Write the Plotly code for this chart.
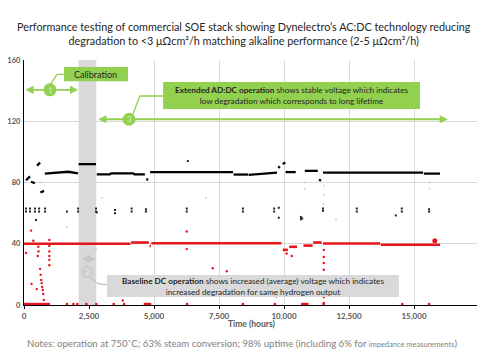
import plotly.graph_objects as go

# ---------------- data ----------------
# Black series: continuous segments (None = gap)
black_line_hours = [80, 230, None, 270, 420, None, 500, 620, None, 630, 770, None,
                    800, 1200, 1700, 2080, None, 2100, 2770, None,
                    2800, 3300, 3350, 4200, 4250, 4650, None, 4700, 4780, None,
                    4850, 8040, None, 8060, 8620, None, 8640, 9200, 9730, None,
                    9780, 9840, None, 9950, 10050, None, 10060, 10450, None,
                    10800, 11300, None, 11350, 11420, None, 11500, 15350, None, 15380, 16000]
black_line_values = [81.5, 84, None, 80.5, 79.5, None, 91, 93, None, 73.5, 74.5, None,
                     85.8, 86.2, 87, 86, None, 92, 92, None,
                     85.3, 85.3, 86, 86, 85.3, 85.3, None, 82, 82, None,
                     86.8, 86.8, None, 85.2, 85.2, None, 85, 85.8, 86.5, None,
                     89.5, 90.5, None, 92, 93, None, 86.8, 86.8, None,
                     87.6, 87.6, None, 82, 81, None, 86.5, 86.5, None, 85.8, 85.8]

# Black scattered points (measurement interruptions)
black_pts_hours = [77, 77, 230, 230, 420, 420, 460, 580, 580, 810, 810, 1650, 2080, 2080,
                   2770, 2770, 2800, 3500, 3500, 4140, 4140, 4690, 4690, 6260, 6260, 6300,
                   8420, 8420, 9620, 9620, 9800, 9800, 10650, 10650, 10700, 11500, 11500,
                   12800, 12800, 14300, 14530, 14530, 15580, 15580]
black_pts_values = [63, 61, 63, 61, 63, 61, 55.5, 63, 61, 63, 61, 61, 63, 61,
                    63, 61, 60.5, 62, 60, 63, 61, 62.5, 61, 63, 61, 94,
                    63, 61, 63, 61, 63.5, 57, 57.5, 56, 56.5, 63, 61.5,
                    63, 61, 58.5, 63, 61, 62.5, 61]

# Red series: continuous segments
red_line_hours = [0, 4100, None, 4120, 4800, None, 4830, 4880, None, 4900, 9900, None,
                  9950, 10150, None, 10200, 10500, None, 10750, 11100, None,
                  11120, 11450, None, 11500, 13700, None, 13720, 16000]
red_line_values = [40, 40, None, 40.8, 40.8, None, 38.5, 38.5, None, 40.3, 40.3, None,
                   36, 36, None, 38, 38, None, 38.8, 38.8, None,
                   40.8, 40.8, None, 40.2, 40.2, None, 39.3, 39.3]

# Red scattered points
red_pts_hours = [80, 270, 290, 360, 490, 530, 550, 560,
                 620, 640, 660, 680, 700, 720, 740, 760,
                 975, 975, 975, 975, 975, 975,
                 3800, 6260, 6260, 7260, 7800, 10100, 10300,
                 11530, 11530, 11530, 11530, 11530, 11530, 11530, 11530, 11530]
red_pts_values = [34, 48.6, 13.8, 42, 10.4, 32, 38, 35,
                  23.6, 19.7, 16.4, 14.4, 11.8, 9.8, 7.2, 3.3,
                  42.5, 38.6, 35, 32, 29.5, 26,
                  3, 48, 36.5, 24, 22, 33.6, 32,
                  36, 31.3, 27.4, 23, 18.3, 14.4, 9.8, 5.2, 1.3]
red_big_hours = [15800]
red_big_values = [42]

# Red points at zero (stack off)
zero_hours = [0, 30, 60, 100, 150, 200, 260, 300, 350, 420, 480, 560, 620, 700, 770, 820,
              880, 960, 1650, 1900, 2050, 2400, 2780, 3450, 3850, 4650, 4700, 4750, 4800,
              4850, 6270, 8420, 9650, 10700, 10750, 10800, 10850, 10900, 11520, 14550, 15580]

# Faint grey points
grey_pts_hours = [615, 1650, 2770, 3000, 9700, 10800, 10800, 11530, 11530, 11530, 15600, 15600, 12000, 7000]
grey_pts_values = [80, 51, 37, 70, 5, 80, 76, 78, 72, 66, 80, 76, 56, 70]

x_ticks = [0, 2500, 5000, 7500, 10000, 12500, 15000, 17500]
x_tick_labels = ["0", "2,500", "5,000", "7,500", "10,000", "12,500", "15,000", "17,500"]
y_ticks = [0, 40, 80, 120, 160]

# calibration window (hours)
calib_start, calib_end = 2100, 2780

GREEN = "#92D050"
LGREY = "#D9D9D9"
FONT = "Lato"

fig = go.Figure()

fig.add_trace(go.Scatter(x=black_pts_hours, y=black_pts_values, mode="markers",
                         marker=dict(color="#222222", size=2.0, symbol="square", line=dict(width=0)),
                         hoverinfo="skip"))
fig.add_trace(go.Scatter(x=grey_pts_hours, y=grey_pts_values, mode="markers",
                         marker=dict(color="#C8C8C8", size=1.8, line=dict(width=0)), hoverinfo="skip"))
fig.add_trace(go.Scatter(x=black_line_hours, y=black_line_values, mode="lines",
                         line=dict(color="#000000", width=2.3), hoverinfo="skip"))
fig.add_trace(go.Scatter(x=red_line_hours, y=red_line_values, mode="lines",
                         line=dict(color="#E8141B", width=2.6), hoverinfo="skip"))
fig.add_trace(go.Scatter(x=red_pts_hours, y=red_pts_values, mode="markers",
                         marker=dict(color="#E8141B", size=2.4, line=dict(width=0)), hoverinfo="skip"))
fig.add_trace(go.Scatter(x=zero_hours, y=[0.6] * len(zero_hours), mode="markers",
                         marker=dict(color="#E8141B", size=2.6, line=dict(width=0)), hoverinfo="skip"))
fig.add_trace(go.Scatter(x=red_big_hours, y=red_big_values, mode="markers",
                         marker=dict(color="#E8141B", size=5, line=dict(width=0)), hoverinfo="skip"))

shapes = []
# calibration band
shapes.append(dict(type="rect", xref="x", yref="y", x0=calib_start, x1=calib_end, y0=0, y1=160,
                   fillcolor=LGREY, line=dict(width=0), layer="below"))
# green box calibration
shapes.append(dict(type="rect", xref="x", yref="y", x0=1540, x1=4000, y0=146.2, y1=155.4,
                   fillcolor=GREEN, line=dict(width=0)))
# green box extended
shapes.append(dict(type="rect", xref="x", yref="y", x0=5350, x1=15230, y0=128, y1=145.6,
                   fillcolor=GREEN, line=dict(width=0)))
# grey box baseline
shapes.append(dict(type="rect", xref="x", yref="y", x0=3190, x1=14420, y0=5.2, y1=19.6,
                   fillcolor=LGREY, line=dict(width=0)))
# leader lines
shapes.append(dict(type="path", xref="x", yref="y", path="M 1000,143.7 L 1270,150.6 L 1540,150.6",
                   line=dict(color=GREEN, width=1.3)))
shapes.append(dict(type="path", xref="x", yref="y", path="M 4190,124.7 L 4460,136.5 L 5350,136.5",
                   line=dict(color=GREEN, width=1.3)))
shapes.append(dict(type="path", xref="x", yref="y", path="M 2577,18.3 Q 2750,13.5 3000,13.5 L 3190,13.5",
                   line=dict(color="#BFBFBF", width=1.3)))
# circles (pixel-sized)
for cx, cy, col in [(1000, 140.5, GREEN), (4040, 121.3, GREEN), (2430, 21.6, "#CFCFCF")]:
    shapes.append(dict(type="circle", xref="x", yref="y", xsizemode="pixel", ysizemode="pixel",
                       xanchor=cx, yanchor=cy, x0=-6.5, x1=6.5, y0=-6.5, y1=6.5,
                       fillcolor=col, line=dict(width=0)))

annotations = []
# arrows
for (xa, xb, yv, col) in [(0, 2080, 140.5, GREEN), (2800, 16300, 121.3, GREEN), (2150, 2750, 30, "#C8C8C8")]:
    annotations.append(dict(x=xb, y=yv, ax=xa, ay=yv, xref="x", yref="y", axref="x", ayref="y",
                            showarrow=True, arrowhead=2, arrowside="end+start", arrowsize=0.9,
                            arrowwidth=1.8, arrowcolor=col, text=""))
# circle numbers
for cx, cy, t in [(1000, 140.5, "1"), (4040, 121.3, "3"), (2430, 21.6, "2")]:
    annotations.append(dict(x=cx, y=cy, xref="x", yref="y", text=t, showarrow=False,
                            font=dict(family=FONT, size=8, color="rgba(255,255,255,0.6)")))
# box texts
annotations.append(dict(x=1846, y=150.8, xref="x", yref="y", xanchor="left", text="Calibration",
                        showarrow=False, font=dict(family=FONT, size=9, color="#262626")))
annotations.append(dict(x=10290, y=136.8, xref="x", yref="y", showarrow=False,
                        text="<b>Extended AD:DC operation</b> shows stable voltage which indicates<br>low degradation which corresponds to long lifetime",
                        font=dict(family=FONT, size=8.2, color="#262626"), align="center"))
annotations.append(dict(x=8800, y=12.4, xref="x", yref="y", showarrow=False,
                        text="<b>Baseline DC operation</b> shows increased (average) voltage which indicates<br>increased degradation for same hydrogen output",
                        font=dict(family=FONT, size=8.2, color="#262626"), align="center"))
# title
annotations.append(dict(x=0.483, y=1.171, xref="paper", yref="paper", showarrow=False,
                        text="Performance testing of commercial SOE stack showing Dynelectro\u2019s AC:DC technology reducing<br>degradation to <3 \u03bc\u03a9cm\u00b2/h matching alkaline performance (2-5 \u03bc\u03a9cm\u00b2/h)",
                        font=dict(family=FONT, size=10.8, color="#262626"), align="center"))
# x axis title
annotations.append(dict(x=0.501, y=-0.106, xref="paper", yref="paper", showarrow=False,
                        text="<b>Time (hours)</b>", font=dict(family=FONT, size=8.5, color="#595959")))
# notes
annotations.append(dict(x=0.479, y=-0.188, xref="paper", yref="paper", showarrow=False,
                        text="Notes: operation at 750\u02daC; 63% steam conversion; 98% uptime (including 6% for <span style='font-size:7.5px'>impedance measurements</span>)",
                        font=dict(family=FONT, size=9.6, color="#7F7F7F")))

# page body adds an 8 px offset; figure sized to fit the 485x360 window
fig.update_layout(
    width=477, height=352,
    margin=dict(l=16, r=6, t=52, b=55),
    paper_bgcolor="white", plot_bgcolor="white",
    showlegend=False,
    shapes=shapes, annotations=annotations,
    xaxis=dict(range=[0, 17500], tickvals=x_ticks, ticktext=x_tick_labels, automargin=False,
               showgrid=True, gridcolor="#D9D9D9", gridwidth=1, zeroline=False,
               showline=True, linecolor="#000000", linewidth=1.2,
               ticks="outside", ticklen=3, tickcolor="#000000",
               tickfont=dict(family=FONT, size=8, color="#595959", weight="bold")),
    yaxis=dict(range=[0, 160], tickvals=y_ticks, automargin=False,
               showgrid=True, gridcolor="#D9D9D9", gridwidth=1, zeroline=False,
               showline=True, linecolor="#000000", linewidth=1.2,
               ticks="", ticklen=0, ticklabelstandoff=1,
               tickfont=dict(family=FONT, size=7.5, color="#595959", weight="bold")),
)

fig.write_html("out.html")
